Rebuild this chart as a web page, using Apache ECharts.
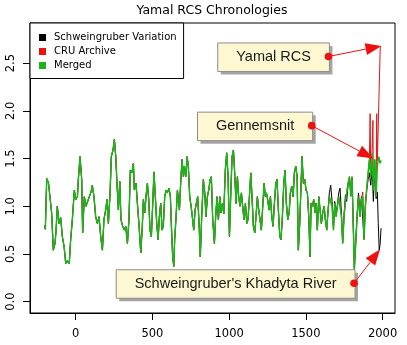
<!DOCTYPE html>
<html>
<head>
<meta charset="utf-8">
<script src="https://cdn.jsdelivr.net/npm/echarts@6/dist/echarts.min.js"></script>
<style>
  html, body { margin: 0; padding: 0; background: #fff; }
  #chart { width: 407px; height: 345px; }
</style>
</head>
<body>
<div id="chart"></div>
<script>
// Merged Yamal RCS chronology (year, index)
const years = [
  -202,-198,-189,-178,-168,-157,-146,-135,-128,-120,-109,-98,-87,-76,-65,-55,-42,-33,-22,-9,
  0,11,17,28,39,45,56,67,82,93,100,108,119,130,141,152,163,174,184,195,
  204,213,224,232,243,252,261,269,278,287,295,306,317,326,337,347,356,367,376,382,
  393,402,413,424,434,441,450,458,467,476,484,493,502,510,519,528,537,545,554,563,
  571,580,589,597,608,617,623,632,639,645,654,663,676,684,693,702,708,717,726,734,
  743,752,760,769,778,786,795,804,812,821,832,841,849,858,867,876,884,893,904,912,
  921,930,939,947,956,965,975,984,993,1002,1010,1019,1028,1036,1045,1054,1062,1071,1080,1088,
  1097,1106,1115,1123,1132,1141,1149,1158,1167,1175,1184,1193,1201,1210,1219,1228,1236,1243,1251,1260,
  1269,1278,1286,1295,1304,1312,1321,1330,1338,1347,1356,1364,1373,1382,1391,1399,1408,1417,1425,1434,
  1443,1451,1460,1469,1475,1484,1493,1501,1510,1519,1527,1534,1543,1551,1560,1567,1575,1584,1593,1601,
  1610,1619,1627,1636,1645,1653,1662,1671,1680,1688,1697,1706,1714,1723,1732,1740,1749,1758,1766,1775,
  1784,1793,1801,1810,1816,1825,1834,1843,1853,1862,1871,1879,1888,1897,1906,1914,1923,1932,1940,1949,
  1958,1966,1975,1984,1990
];
const merged = [
  0.80,0.76,1.29,1.25,1.10,0.93,0.54,0.61,0.75,1.00,0.82,0.88,0.68,0.58,0.40,0.43,0.40,0.65,0.86,1.17,
  1.07,1.10,1.28,1.52,1.28,0.72,1.10,1.00,1.07,1.05,1.15,1.22,1.10,0.89,0.82,0.89,0.68,0.54,0.86,0.96,
  1.07,0.82,1.14,1.52,1.59,1.70,1.52,1.24,0.96,1.26,0.86,0.79,0.75,0.79,0.61,0.86,1.38,1.35,1.45,1.17,
  1.24,1.03,0.79,0.51,0.79,1.07,0.93,1.10,1.24,1.07,0.75,0.68,1.03,1.36,1.10,0.82,0.65,0.89,1.03,0.75,
  0.79,1.10,1.17,1.14,1.19,1.10,0.82,0.47,0.37,0.65,0.89,1.17,0.96,1.24,1.49,1.31,1.42,1.31,1.52,1.42,
  1.10,1.00,0.89,0.75,0.96,1.03,1.10,0.82,0.47,0.89,1.28,1.14,0.89,1.10,1.17,1.28,1.31,0.86,0.61,0.89,
  1.10,0.86,1.10,0.93,1.03,0.92,1.38,1.56,1.31,0.68,1.10,1.52,1.59,1.35,1.03,1.31,1.10,1.00,1.14,1.00,
  0.86,1.03,0.82,0.86,1.10,1.35,1.10,0.79,0.72,0.89,1.10,0.96,0.86,0.75,1.00,1.24,1.10,1.14,1.07,0.96,
  1.10,0.89,0.79,1.03,1.24,1.28,0.96,0.68,0.65,0.89,1.24,1.38,1.03,0.86,0.93,1.14,1.21,1.10,1.35,1.42,
  1.31,0.54,0.82,1.24,1.52,1.24,1.28,1.17,1.14,0.89,0.47,1.03,1.00,1.07,0.93,1.03,0.75,1.10,0.96,0.82,
  0.93,1.00,0.86,0.75,0.96,1.10,1.12,1.00,0.75,1.03,0.89,1.00,1.10,1.12,0.89,0.61,0.89,1.05,1.07,1.24,
  1.31,1.10,1.31,0.75,0.33,0.61,0.89,1.10,0.89,1.07,1.10,0.65,1.00,1.20,1.35,1.49,1.31,1.56,1.17,1.49,
  1.10,1.42,1.52,1.45,1.48
];

// Schweingruber variation: identical to the merged series before 1640
const schweinYears = [
  1645,1653,1662,1671,1680,1688,1697,1706,1714,1723,1732,1740,1749,1758,1766,1775,1784,1793,1801,1810,
  1816,1825,1834,1843,1853,1862,1871,1879,1888,1897,1906,1914,1923,1932,1940,1949,1958,1966,1972,1978,
  1984,1990
];
const schwein = [
  0.96,1.14,1.22,1.05,0.78,1.05,0.92,1.02,1.14,1.19,0.92,0.63,0.92,1.12,1.05,1.22,1.28,1.12,1.30,0.72,
  0.36,0.63,0.92,1.14,0.92,1.10,1.12,0.66,1.02,1.18,1.28,1.35,1.22,1.40,1.05,1.38,1.08,1.15,0.82,0.54,
  0.60,0.77
];

// CRU archive version: identical to the merged series before 1640
const cruYears = [
  1645,1653,1662,1671,1680,1688,1697,1706,1714,1723,1732,1740,1749,1758,1766,1775,1784,1793,1801,1810,
  1816,1825,1834,1843,1853,1862,1871,1879,1888,1897,1906,1914,1919,1923,1932,1937,1940,1949,1958,1962,
  1966,1985
];
const cru = [
  0.96,1.10,1.12,1.00,0.75,1.03,0.89,1.00,1.10,1.12,0.89,0.61,0.89,1.05,1.07,1.24,1.31,1.20,1.31,0.75,
  0.33,0.61,0.89,1.10,0.89,1.07,1.15,0.65,1.00,1.18,1.35,1.49,1.97,1.31,1.60,1.90,1.20,1.49,1.10,1.97,
  1.48,2.68
];

const seriesNames = ['Schweingruber Variation', 'CRU Archive', 'Merged'];
const xTicks = [0, 500, 1000, 1500, 2000];
const yTicks = [0, 0.5, 1, 1.5, 2, 2.5];

// Callout boxes: label, anchor point of the box (dot) and arrow target, in data units
const noteLabels = ['Yamal RCS', 'Gennemsnit', "Schweingruber's Khadyta River"];
const noteAnchors = [[1647, 2.57], [1538, 1.845], [1814, 0.193]];
const noteTargets = [[1993, 2.68], [1940, 1.50], [1984, 0.55]];

const COLORS = { black: '#000000', red: '#ee1111', green: '#1cb41c' };
const FONT = 'DejaVu Sans';

function pairs(xs, ys) { return xs.map((x, i) => [x, ys[i]]); }
const mergedPts = pairs(years, merged);
const head = mergedPts.filter(p => p[0] < 1640);
const schweinPts = head.concat(pairs(schweinYears, schwein));
const cruPts = head.concat(pairs(cruYears, cru));

const measureCtx = document.createElement('canvas').getContext('2d');
const NOTE_FONT = '14.5px "Liberation Sans", Arial, sans-serif';

function renderNote(params, api) {
  const i = params.dataIndex;
  const a = api.coord([api.value(0), api.value(1)]);
  const t = api.coord([api.value(2), api.value(3)]);
  measureCtx.font = NOTE_FONT;
  const tw = measureCtx.measureText(noteLabels[i]).width;
  const w = tw + 37, h = 28.5;
  const x0 = a[0] + 1 - w, y0 = a[1] - 13.5;
  const dx = t[0] - a[0], dy = t[1] - a[1];
  const len = Math.hypot(dx, dy);
  const ux = dx / len, uy = dy / len;
  const headLen = 16, headHalf = 6;
  const bx = t[0] - ux * headLen, by = t[1] - uy * headLen;
  return {
    type: 'group',
    children: [
      { type: 'rect', shape: { x: x0 + 3, y: y0 + 3, width: w, height: h }, style: { fill: '#a4a4a4' } },
      { type: 'rect', shape: { x: x0, y: y0, width: w, height: h }, style: { fill: '#fdf8d2', stroke: '#8c8c8c', lineWidth: 1 } },
      { type: 'text', style: { text: noteLabels[i], x: x0 + w / 2, y: y0 + h / 2, align: 'center', verticalAlign: 'middle', font: NOTE_FONT, fill: '#1a1a1a' } },
      { type: 'line', shape: { x1: a[0], y1: a[1], x2: bx, y2: by }, style: { stroke: COLORS.red, lineWidth: 1 } },
      { type: 'polygon', shape: { points: [[t[0], t[1]], [bx - uy * headHalf, by + ux * headHalf], [bx + uy * headHalf, by - ux * headHalf]] }, style: { fill: COLORS.red } },
      { type: 'circle', shape: { cx: a[0], cy: a[1], r: 3.8 }, style: { fill: COLORS.red } }
    ]
  };
}

function lineSeries(name, data, color, width) {
  return {
    type: 'line', name, data, color,
    showSymbol: false, symbol: 'none', silent: true,
    lineStyle: { width, color }, itemStyle: { color },
    animation: false
  };
}

const chart = echarts.init(document.getElementById('chart'), null, { renderer: 'canvas' });
chart.setOption({
  animation: false,
  backgroundColor: '#fff',
  title: {
    text: 'Yamal RCS Chronologies',
    left: 212, top: 4, textAlign: 'center', padding: 0,
    textStyle: { fontFamily: FONT, fontSize: 12.5, fontWeight: 'normal', color: '#000' }
  },
  grid: { left: 30, right: 12, top: 23, bottom: 32, show: true, borderColor: '#000', borderWidth: 1, backgroundColor: 'transparent' },
  legend: {
    orient: 'vertical', left: 30, top: 23,
    data: seriesNames, icon: 'rect', itemWidth: 7, itemHeight: 7, itemGap: 2,
    padding: [8.5, 7, 7, 9], borderColor: '#000', borderWidth: 1, borderRadius: 0,
    backgroundColor: '#fff', selectedMode: false, z: 20,
    textStyle: { fontFamily: FONT, fontSize: 10, color: '#000', lineHeight: 12, padding: [0, 0, 0, 3] }
  },
  xAxis: {
    type: 'value', min: -298, max: 2081,
    splitLine: { show: false },
    axisLine: { show: true, onZero: false, lineStyle: { color: '#000', width: 1 } },
    axisTick: { show: true, length: 7, customValues: xTicks, lineStyle: { color: '#000' } },
    axisLabel: { customValues: xTicks, color: '#000', fontFamily: FONT, fontSize: 11.5, margin: 15, formatter: v => String(v) }
  },
  yAxis: {
    type: 'value', min: -0.119, max: 2.921,
    splitLine: { show: false },
    axisLine: { show: true, onZero: false, lineStyle: { color: '#000', width: 1 } },
    axisTick: { show: true, length: 7, customValues: yTicks, lineStyle: { color: '#000' } },
    axisLabel: { customValues: yTicks, rotate: 90, color: '#000', fontFamily: FONT, fontSize: 11.5, margin: 13, formatter: v => v.toFixed(1) }
  },
  series: [
    lineSeries(seriesNames[0], schweinPts, COLORS.black, 1),
    lineSeries(seriesNames[1], cruPts, COLORS.red, 1),
    lineSeries(seriesNames[2], mergedPts, COLORS.green, 1.5),
    {
      type: 'custom', coordinateSystem: 'cartesian2d', renderItem: renderNote,
      data: noteAnchors.map((p, i) => [p[0], p[1], noteTargets[i][0], noteTargets[i][1]]),
      encode: { x: [0, 2], y: [1, 3] }, clip: false, silent: true, z: 10
    }
  ]
});
</script>
</body>
</html>
